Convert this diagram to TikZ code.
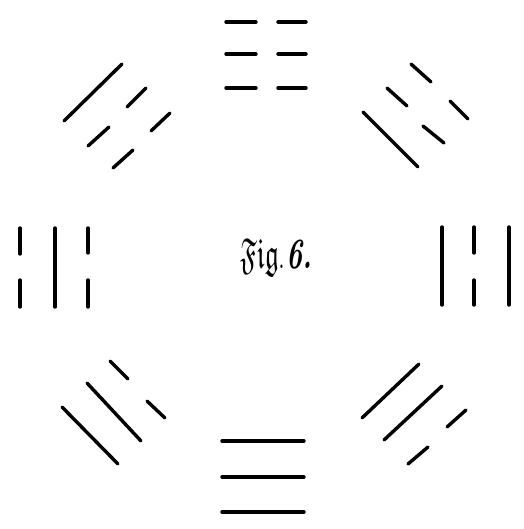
\documentclass[tikz,border=0pt]{standalone}
\usepackage{amssymb}
\usepackage{graphicx}
\begin{document}
\begin{tikzpicture}[x=1pt,y=-1pt,
  bar/.style={line width=3.4pt,line cap=round,black},
  figlabel/.style={inner sep=0pt,font=\fontsize{24}{24}\selectfont}]
\useasboundingbox (0,0) rectangle (523,529);
% top trigram (all broken)
\foreach \y in {22,54,88}{
  \draw[bar] (226,\y) -- (256,\y);
  \draw[bar] (278,\y) -- (306,\y);
}
% bottom trigram (all solid)
\foreach \y in {441,477,512}{
  \draw[bar] (222,\y) -- (304,\y);
}
% left trigram
\draw[bar] (20,228) -- (20,254);
\draw[bar] (20,280) -- (20,307);
\draw[bar] (55,228) -- (55,307);
\draw[bar] (88,228) -- (88,253);
\draw[bar] (88,280) -- (88,307);
% right trigram
\draw[bar] (442,227) -- (442,305);
\draw[bar] (474,227) -- (474,253);
\draw[bar] (474,280) -- (474,305);
\draw[bar] (509,227) -- (509,305);
% upper-left trigram
\draw[bar] (64,121) -- (122,64);
\draw[bar] (127,107) -- (146,88);
\draw[bar] (88,146) -- (109,127);
\draw[bar] (151,131) -- (170,113);
\draw[bar] (113,168) -- (133,150);
% upper-right trigram
\draw[bar] (411,64) -- (431,82);
\draw[bar] (450,101) -- (468,119);
\draw[bar] (387,88) -- (407,106);
\draw[bar] (423,126) -- (444,143);
\draw[bar] (363,112) -- (418,167);
% lower-left trigram
\draw[bar] (62,407) -- (118,464);
\draw[bar] (87,383) -- (141,441);
\draw[bar] (110,361) -- (128,379);
\draw[bar] (147,401) -- (165,418);
% lower-right trigram
\draw[bar] (362,418) -- (419,364);
\draw[bar] (384,440) -- (442,386);
\draw[bar] (447,427) -- (466,410);
\draw[bar] (408,464) -- (428,447);
% label
\node[figlabel,anchor=base west] (fig) at (240,268)
  {\scalebox{1.15}[1.8]{$\mathfrak{Fig}$.\kern0.5pt\textit{\bfseries 6.}}};
\end{tikzpicture}
\end{document}
